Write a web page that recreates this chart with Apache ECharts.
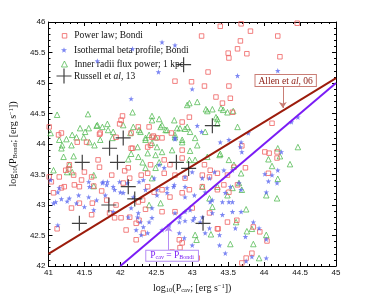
<!DOCTYPE html>
<html><head><meta charset="utf-8">
<script src="https://cdn.jsdelivr.net/npm/echarts@6/dist/echarts.min.js"></script>
<style>html,body{margin:0;padding:0;background:#fff}#c{width:371px;height:299px}</style>
</head><body><div id="c"></div>
<script>
const powerLaw = [[43.39,45.93],[43.68,45.97],[44.46,45.98],[43.13,45.77],[43.81,45.85],[43.67,45.69],[44.19,45.77],[43.50,45.49],[43.51,45.41],[43.63,45.56],[43.76,45.48],[44.22,45.43],[43.22,45.18],[42.76,45.03],[42.99,45.02],[43.17,44.95],[43.51,44.95],[43.33,44.77],[43.53,44.75],[43.42,44.67],[43.56,44.52],[44.11,44.34],[42.03,44.46],[41.72,44.18],
[44.01,43.87],[44.07,43.85],[44.18,43.87],[44.18,43.77],[43.74,43.61],[43.69,43.97],
[43.85,42.64],[43.94,42.56],[44.04,42.41],[43.83,42.21],[43.75,42.13],[43.69,42.05],
[44.06,43.52],[43.62,42.75],[43.36,42.61],[42.83,42.30],
[42.01,44.39],[41.99,44.33],[41.01,44.28],[41.14,44.15],[41.40,44.03],[41.53,44.03],[41.71,44.16],[42.15,44.18],[42.25,44.28],[41.94,44.11],[42.15,43.93],[42.11,43.61],[41.69,43.74],[41.71,43.62],[41.29,43.66],[41.28,43.59],[41.15,43.46],[42.13,43.44],[42.29,43.49],[41.01,43.46],
[41.04,43.38],[41.18,43.28],[41.07,43.20],[41.22,43.30],[41.43,43.30],[41.36,43.33],[41.32,42.95],[41.43,43.03],[41.61,43.03],[41.60,42.84],[41.94,43.00],[41.81,43.08],[41.85,42.87],[41.92,42.79],[42.01,42.79],[42.08,42.59],[42.13,42.80],[42.22,42.70],[42.26,42.75],[42.22,42.43],[41.12,42.61],[41.63,43.31],[41.74,43.23],[42.04,43.36],[42.25,43.05],[42.32,42.54],
[42.38,43.30],[42.47,43.21],[42.58,43.25],[42.69,43.13],[42.86,43.20],[42.96,43.25],[43.14,43.30],[43.35,43.25],[43.44,43.33],[43.51,43.21],[43.63,43.33],[42.76,42.89],[43.00,42.95],[43.24,42.87],[43.35,42.61],[43.49,42.72],[42.82,42.43],[42.86,42.38],[42.72,42.23],[43.07,42.13],[42.35,42.93],[42.58,42.89],[42.31,43.08],
[42.96,44.44],[42.86,44.36],[42.40,44.28],[42.44,44.11],[42.51,44.10],[42.38,43.95],[42.42,43.98],[42.71,44.18],[42.86,43.90],[42.86,43.77],[42.61,43.74],[42.42,43.66],[42.38,43.52],[42.69,43.66],[43.17,43.66],[43.25,43.57],[43.35,43.52],[43.24,43.46],[43.49,43.49],[43.58,43.62],[43.14,43.49],[42.61,43.52],[42.76,43.49],[42.90,43.44],
[41.24,43.57],[41.35,43.49],[41.50,43.54],[41.46,43.41],[41.60,43.46],[41.88,43.49],[42.06,43.56],[42.58,44.10],[42.46,44.13],[42.17,43.93],[41.18,44.18]];

const isoBeta = [[42.58,45.67],[42.76,45.62],[42.17,45.56],[41.68,45.36],[42.53,45.18],[42.15,44.74],[42.76,44.08],[43.00,44.90],[43.63,45.12],[44.19,45.20],
[43.78,44.18],[43.68,44.03],[43.67,43.95],[43.69,43.87],[44.38,44.36],[44.47,44.44],[44.24,43.87],[44.01,43.51],[44.11,43.49],[44.19,43.57],[44.06,43.39],
[44.18,43.36],[43.68,43.25],[44.03,43.21],[43.85,42.72],[43.93,42.62],[43.74,42.48],[43.83,42.15],[43.75,42.08],[44.03,42.13],
[43.51,43.05],[43.68,42.89],[44.03,42.44],[43.60,42.62],[43.18,42.54],[43.01,42.75],[42.97,42.92],[43.25,43.05],[43.46,43.20],[43.53,43.30],[43.65,43.36],
[41.18,43.10],[41.29,43.11],[41.42,43.16],[41.56,43.13],[41.67,43.08],[41.79,43.16],[42.04,43.20],[42.18,43.13],[41.07,43.03],[41.39,43.03],[41.50,42.97],[41.63,42.92],[41.90,42.89],[42.15,42.95],[42.25,42.87],[41.15,43.28],[41.57,43.30],[41.81,43.33],[41.92,43.25],[42.11,42.80],[42.22,42.59],[42.29,42.51],[41.13,42.67],[41.76,43.38],[41.99,43.38],[42.26,43.38],
[41.03,43.41],[41.13,43.21],[41.10,43.05],[41.26,43.06],[41.56,43.38],[41.75,43.36],[41.82,43.38],[41.90,43.30],[42.00,43.21],[42.10,43.36],[42.32,43.41],[42.51,43.25],[42.65,43.20],[42.74,43.30],[42.24,42.80],[42.28,42.72],[42.32,42.64],[42.38,42.54],[42.44,42.79],[42.83,42.80],[42.90,43.13],
[42.35,43.25],[42.51,43.16],[42.65,43.28],[42.75,43.33],[42.90,43.30],[43.03,43.16],[43.18,43.21],[43.28,43.08],[43.42,43.05],[43.56,43.05],[42.44,42.95],[42.76,42.87],[42.90,42.89],[43.03,42.79],[43.14,42.80],[43.28,42.87],[43.42,42.84],[43.56,42.89],[42.40,42.72],[42.58,42.59],[42.68,42.67],[42.82,42.72],[42.90,42.74],[43.11,42.72],[43.24,42.62],[43.38,42.51],[42.82,42.54],[42.89,42.46],[43.00,42.34],[43.38,42.34],[43.46,42.21],
[43.07,44.30],[43.13,44.20],[43.39,44.03],[43.51,44.07],[42.76,44.10],[42.54,43.66],[42.61,43.61],[43.00,43.54],[43.31,43.54],[43.44,43.57],[43.56,43.57],[42.47,43.44],[42.90,43.46],[43.14,43.44],[43.24,43.44]];

const innerRadii = [[41.12,44.48],[41.55,44.49],[42.17,44.52],[42.44,44.46],[41.03,44.18],[41.33,44.15],[41.44,44.26],[41.68,44.31],[41.75,44.28],[41.83,44.23],[41.89,44.10],[42.14,44.18],[42.28,44.20],[42.35,44.10],[42.49,44.11],[42.56,44.28],[42.65,44.23],[42.76,44.15],[42.83,44.26],[42.93,44.28],[42.93,44.64],[42.86,44.03],[41.15,44.07],[41.19,43.98],[41.51,44.20],[41.57,44.03],[41.72,44.07],[42.24,43.95],
[41.25,44.08],[41.32,43.98],[41.18,43.93],[41.35,43.80],[41.21,43.79],[41.56,44.26],[41.49,44.11],[41.39,44.11],[41.67,44.30],[41.82,44.33],[41.90,44.20],[42.04,44.31],[42.18,44.28],[42.26,44.23],[42.25,43.79],[42.15,43.84],[42.11,43.75],[42.31,43.70],[41.64,43.98],[41.63,43.49],[41.33,43.54],[41.29,43.66],[41.07,43.57],[41.26,43.54],
[43.07,44.69],[42.96,44.67],[43.21,44.54],[43.43,44.56],[43.57,44.54],[43.35,44.41],[42.54,44.41],[42.44,44.39],[42.75,44.39],[42.79,44.26],[42.90,44.25],[42.97,44.20],[42.76,44.11],[42.86,44.07],[43.04,44.10],[43.18,44.20],[42.63,44.23],[42.58,44.31],[42.40,44.15],[42.35,44.07],[42.44,44.02],[42.51,43.95],[42.58,43.87],[42.49,43.82],[42.38,43.85],[42.72,43.90],[42.97,43.89],[43.07,43.98],[43.21,43.79],[43.38,43.82],[43.51,43.74],[43.58,43.66],[42.54,43.70],[42.96,43.74],[43.04,43.74],[42.35,43.61],[42.49,43.61],[42.44,43.44],
[43.39,43.84],[44.06,43.75],[44.36,43.67],[44.11,43.64],[43.68,43.52],[44.19,43.43],[44.18,43.11],[43.75,42.93],[43.61,42.72],[43.76,42.57],[43.26,42.52],[43.53,42.36],[43.93,42.13],[43.06,42.43],[44.19,43.93],[44.47,43.95],[44.22,43.80],[44.03,43.16],[43.83,42.61],[44.03,42.51],[43.85,42.36],[43.69,43.25],
[43.14,43.30],[43.24,43.11],[43.49,43.16],[43.56,43.28],[42.56,43.03],[42.40,43.00],[43.28,42.97],[43.04,42.51],[43.65,43.36],[43.35,43.30],[41.63,43.31],
[43.40,44.59],[43.49,44.52],[43.28,44.57],[43.19,44.57],[43.63,44.28],[43.33,44.44],[43.35,44.34]];

const russell = [[41.47,43.70],[41.85,43.93],[42.04,44.10],[41.96,43.70],[43.28,44.30],[42.78,43.70],[42.95,43.60],[42.11,43.30],[42.20,43.10],[41.84,43.00],[41.43,42.70],[43.15,42.70],[42.88,45.30]];

const allenLine = [[41,42.2],[45,45.08]];
const equalityLine = [[42,42],[45,45]];
const allenArrow = [[44.26,44.95],[44.26,44.59]];
const allenBox = [44.30,45.04];
const eqArrow = [[42.67,42.26],[42.67,42.66]];
const eqBox = [42.72,42.17];

const names = ['Power law; Bondi','Isothermal beta profile; Bondi','Inner radii flux power; 1 kpc','Russell et al, 13'];

const SERIF = 'Liberation Serif';
const SANS = 'Liberation Sans';
const RED = '#ef6262', BLUE = '#5a68f0', GREEN = '#45b545';
const STAR = 'path://M0,-10L2.35,-3.24L9.51,-3.09L3.8,1.24L5.88,8.09L0,4L-5.88,8.09L-3.8,1.24L-9.51,-3.09L-2.35,-3.24Z';
const CROSS = 'path://M0,6.9H15V8.1H0Z M6.9,0H8.1V15H6.9Z';

const chart = echarts.init(document.getElementById('c'), null, {renderer:'canvas'});

function axisBase(extra){
  return Object.assign({
    min:41, max:45, interval:0.5,
    axisLine:{show:true, onZero:false, lineStyle:{color:'#000', width:1}},
    axisTick:{show:true, inside:true, length:4, lineStyle:{color:'#000', width:1}},
    minorTick:{show:true, splitNumber:5, length:2, lineStyle:{color:'#000', width:1}},
    splitLine:{show:false},
    axisLabel:{show:true, fontFamily:SANS, fontSize:8, color:'#111', margin:3}
  }, extra);
}
const legendBase = {selectedMode:false, orient:'vertical', padding:0,
  textStyle:{fontFamily:SERIF, fontSize:9.5, color:'#111'}};

const subRich = {
  n:{fontFamily:SERIF, fontSize:10, color:'#111'},
  s:{fontFamily:SERIF, fontSize:6.5, color:'#111', verticalAlign:'bottom', padding:[4,0,0,0]},
  p:{fontFamily:SERIF, fontSize:6.5, color:'#111', verticalAlign:'top', padding:[0,0,4,0]}
};

chart.setOption({
  animation:false,
  backgroundColor:'#fff',
  grid:{left:48, right:35, top:22, bottom:33, containLabel:false},
  legend:[
    Object.assign({}, legendBase, {data:[{name:names[0], icon:'rect', itemStyle:{color:'rgba(0,0,0,0)', borderColor:RED, borderWidth:1}}], left:61.8, top:30.8, itemWidth:4.5, itemHeight:4.5, textStyle:Object.assign({}, legendBase.textStyle, {padding:[0,0,0,2.5]})}),
    Object.assign({}, legendBase, {data:[{name:names[1], icon:STAR}], left:61, top:45, itemWidth:6, itemHeight:6, textStyle:Object.assign({}, legendBase.textStyle, {padding:[0,0,0,2]})}),
    Object.assign({}, legendBase, {data:[{name:names[2], icon:'triangle', itemStyle:{color:'rgba(0,0,0,0)', borderColor:GREEN, borderWidth:0.9}}], left:61, top:59, itemWidth:6, itemHeight:6, textStyle:Object.assign({}, legendBase.textStyle, {padding:[0,0,0,2]})}),
    Object.assign({}, legendBase, {data:[{name:names[3], icon:CROSS}], left:56.5, top:68.5, itemWidth:15, itemHeight:15,
      formatter:function(){return '{n|Russell et }{i|al}{n|, 13}';},
      textStyle:Object.assign({}, legendBase.textStyle, {padding:[0,0,0,-2.5], rich:{n:{fontFamily:SERIF, fontSize:9.5, color:'#111'}, i:{fontFamily:SERIF, fontSize:9.5, fontStyle:'italic', color:'#111'}}})})
  ],
  xAxis:[
    axisBase({type:'value', position:'bottom',
      name:'{n|log}{s|10}{n|(P}{s|cav}{n|; [erg s}{p|−1}{n|])}', nameLocation:'middle', nameGap:17,
      nameTextStyle:{rich:subRich}}),
    axisBase({type:'value', position:'top', axisLabel:{show:false}})
  ],
  yAxis:[
    axisBase({type:'value', position:'left', min:42, max:46,
      name:'{n|log}{s|10}{n|(P}{s|Bondi}{n|; [erg s}{p|−1}{n|])}', nameLocation:'middle', nameGap:20, nameRotate:90,
      nameTextStyle:{rich:subRich},
      axisLabel:{show:true, fontFamily:SANS, fontSize:8, color:'#111', margin:3}}),
    axisBase({type:'value', position:'right', min:42, max:46, axisLabel:{show:false}})
  ],
  series:[
    {name:names[2], type:'scatter', data:innerRadii, symbol:'triangle', symbolSize:5.5, z:2,
      itemStyle:{color:'rgba(0,0,0,0)', borderColor:GREEN, borderWidth:0.9}},
    {name:names[0], type:'scatter', data:powerLaw, symbol:'rect', symbolSize:4.5, z:3,
      itemStyle:{color:'rgba(0,0,0,0)', borderColor:RED, borderWidth:1}},
    {name:names[1], type:'scatter', data:isoBeta, symbol:STAR, symbolSize:5.5, z:4,
      itemStyle:{color:BLUE}},
    {name:'Allen et al, 06', type:'line', data:allenLine, symbol:'none', z:5,
      lineStyle:{color:'#9c1c0c', width:2},
      markLine:{silent:true, symbol:['none','arrow'], symbolSize:6,
        lineStyle:{color:'#c97d75', width:1, type:'solid'}, label:{show:false},
        data:[[{coord:allenArrow[0]},{coord:allenArrow[1], itemStyle:{color:'#9c1c0c'}}]]},
      markPoint:{silent:true, symbol:'rect', symbolSize:0,
        data:[{coord:allenBox, label:{show:true, position:'inside',
          formatter:'{n|Allen et }{i|al}{n|, 06}', backgroundColor:'#fff', borderColor:'#c97d75', borderWidth:1, padding:[1,3,0,3],
          rich:{n:{fontFamily:SERIF, fontSize:9.5, color:'#8b1a10'}, i:{fontFamily:SERIF, fontSize:9.5, fontStyle:'italic', color:'#8b1a10'}}}}]}
    },
    {name:'Pcav = PBondi', type:'line', data:equalityLine, symbol:'none', z:5,
      lineStyle:{color:'#7a1cf5', width:2},
      markLine:{silent:true, symbol:['none','arrow'], symbolSize:6,
        lineStyle:{color:'#b58cf5', width:1, type:'solid'}, label:{show:false},
        data:[[{coord:eqArrow[0]},{coord:eqArrow[1], itemStyle:{color:'#7a1cf5'}}]]},
      markPoint:{silent:true, symbol:'rect', symbolSize:0,
        data:[{coord:eqBox, label:{show:true, position:'inside',
          formatter:'{n|P}{s|cav}{n| = P}{s|Bondi}', backgroundColor:'#fff', borderColor:'#b58cf5', borderWidth:1, padding:[0,4,0,4],
          rich:{n:{fontFamily:SERIF, fontSize:9.5, color:'#7a1cf5'}, s:{fontFamily:SERIF, fontSize:6, color:'#7a1cf5', verticalAlign:'bottom', padding:[4,0,0,0]}}}}]}
    },
    {name:names[3], type:'scatter', data:russell, symbol:CROSS, symbolSize:15, z:6,
      itemStyle:{color:'#111'}}
  ]
});
</script></body></html>
